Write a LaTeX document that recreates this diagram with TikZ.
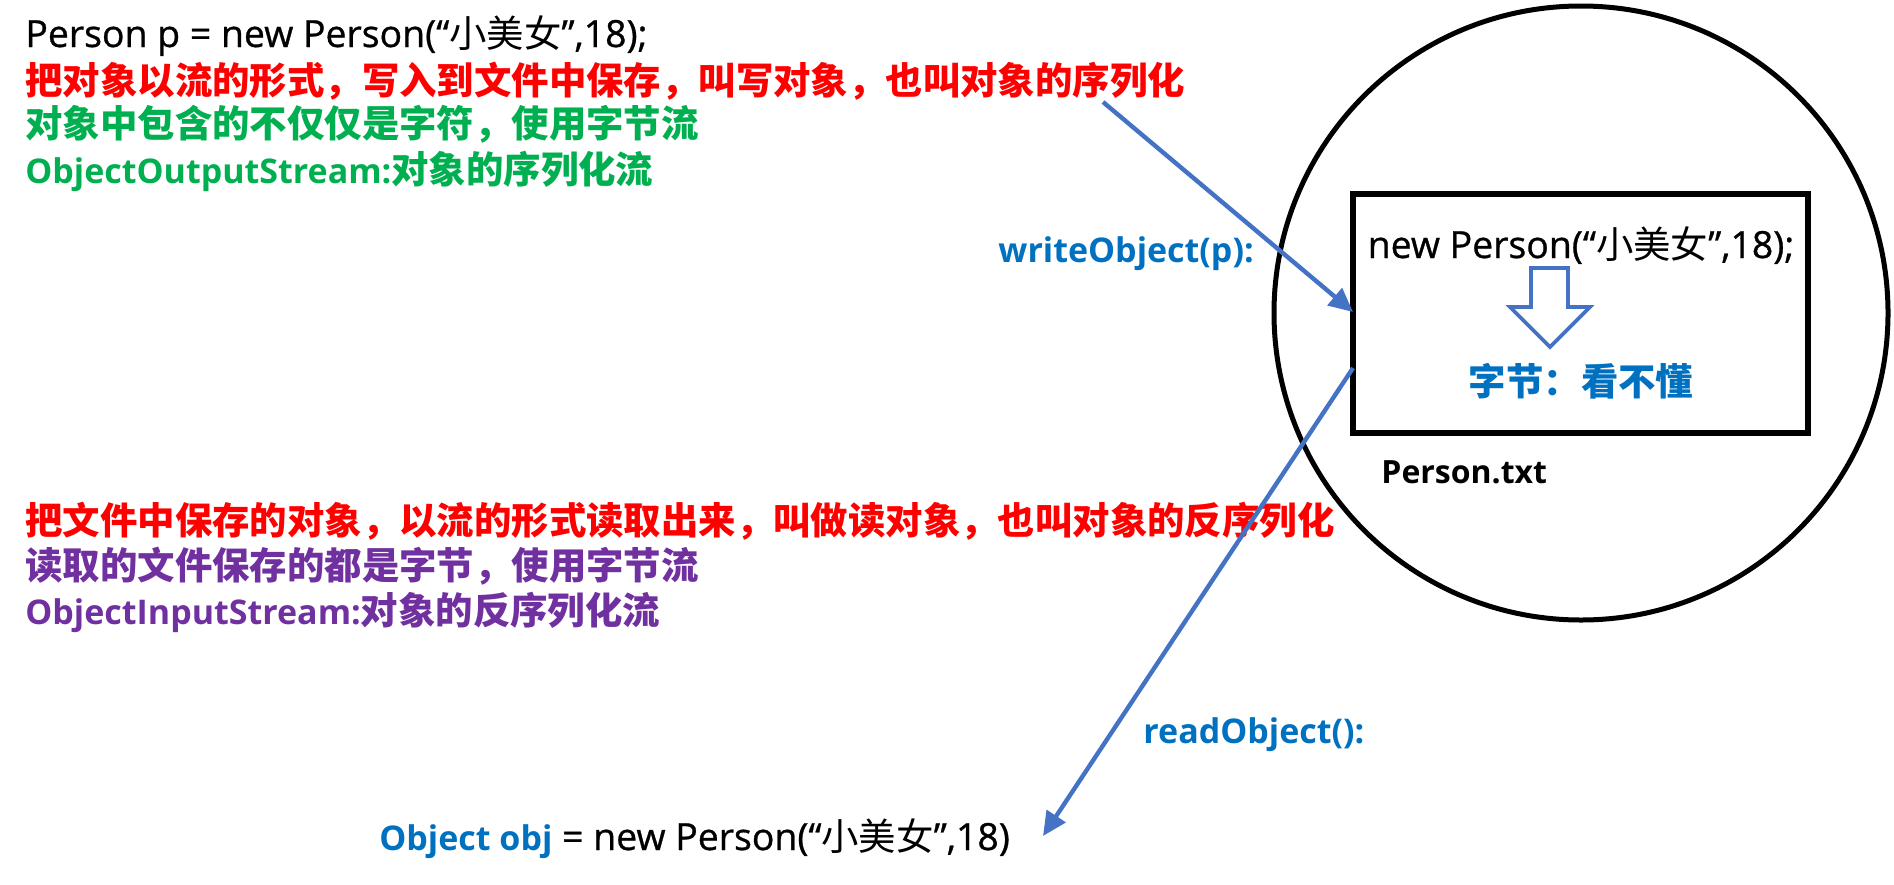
\documentclass[tikz,border=0pt]{standalone}
\usepackage{fontspec}
\setmainfont{Open Sans}
\newfontfamily\cjk{Noto Sans CJK SC}
\newfontfamily\codefont{Open Sans}[FakeBold=0.8]
\newcommand\hanzi[1]{{\cjk\fontsize{18.7}{22}\selectfont #1}}
\usetikzlibrary{arrows.meta}
\definecolor{txtred}{HTML}{FF0000}
\definecolor{txtgreen}{HTML}{00B050}
\definecolor{txtpurple}{HTML}{7030A0}
\definecolor{txtblue}{HTML}{0070C0}
\definecolor{arrblue}{HTML}{4472C4}
\tikzset{
  line/.style={inner sep=0pt, anchor=base west},
  zh/.style={font=\cjk\bfseries\fontsize{18.7}{22}\selectfont},
  bold/.style={font=\bfseries\fontsize{17}{20}\selectfont},
  code/.style={font=\codefont\fontsize{18.7}{22}\selectfont},
  flow/.style={draw=arrblue, line width=2.2pt, -{Triangle[length=12pt,width=11pt]}},
}
\begin{document}
\begin{tikzpicture}[x=0.5pt,y=-0.5pt]
  \useasboundingbox (0,0) rectangle (1894,884);
  % writing side
  \node[line,code] (pdef) at (25,47) {Person p = new Person(“\hanzi{小美女}”,18);};
  \node[line,zh,txtred] (wr1) at (25,94) {把对象以流的形式，写入到文件中保存，叫写对象，也叫对象的序列化};
  \node[line,zh,txtgreen] (wr2) at (25,137) {对象中包含的不仅仅是字符，使用字节流};
  \node[line,bold,txtgreen] (wr3) at (25,183) {ObjectOutputStream:\hanzi{对象的序列化流}};
  \node[line,bold,txtblue] (wcall) at (998,262) {writeObject(p):};
  % reading side
  \node[line,zh,txtred] (rd1) at (25,534) {把文件中保存的对象，以流的形式读取出来，叫做读对象，也叫对象的反序列化};
  \node[line,zh,txtpurple] (rd2) at (25,579) {读取的文件保存的都是字节，使用字节流};
  \node[line,bold,txtpurple] (rd3) at (25,624) {ObjectInputStream:\hanzi{对象的反序列化流}};
  \node[line,bold,txtblue] (rcall) at (1143,743) {readObject():};
  \node[line,code] (pobj) at (379,850) {{\normalfont\bfseries\fontsize{17}{20}\selectfont\color{txtblue}Object obj} = new Person(“\hanzi{小美女}”,18)};
  % the file
  \node[draw, circle, line width=2.5pt, minimum size=307pt, inner sep=0pt] (disk) at (1581,313) {};
  \node[draw, rectangle, line width=3pt, minimum width=227.5pt, minimum height=119.5pt, inner sep=0pt] (file) at (1580.5,313.5) {};
  \node[code, inner sep=0pt, anchor=base] (fcode) at (1581,258) {new Person(“\hanzi{小美女}”,18);};
  \node[zh, txtblue, inner sep=0pt, anchor=base] (fbytes) at (1581,395) {字节：看不懂};
  \node[line, font=\bfseries\fontsize{16}{19}\selectfont] (fname) at (1381,483) {Person.txt};
  \draw[draw=arrblue, line width=1.8pt, fill=white]
    (1531,268) -- (1568,268) -- (1568,307) -- (1590,307) -- (1550,347)
    -- (1510,307) -- (1531,307) -- cycle;
  % arrows
  \coordinate (win) at (1103,102);
  \coordinate (wend) at (1353,312);
  \coordinate (rout) at (1353,368);
  \coordinate (rend) at (1043,836);
  \draw[flow] (win) -- (wend);
  \draw[flow] (rout) -- (rend);
\end{tikzpicture}
\end{document}
